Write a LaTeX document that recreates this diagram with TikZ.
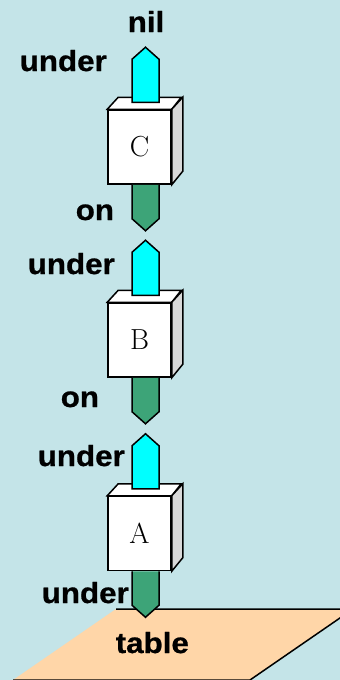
\documentclass[tikz,border=0pt]{standalone}
\usepackage{fontspec}
\usetikzlibrary{calc}
\newfontfamily\labfont{Liberation Sans}[FakeStretch=1.08,FakeBold=0.8]
\definecolor{bg}{HTML}{C4E4E8}
\definecolor{peach}{HTML}{FFD6A8}
\definecolor{ongreen}{HTML}{3DA478}
\definecolor{undercyan}{HTML}{00FFFF}
\definecolor{sidegrey}{HTML}{D9D9D9}
\begin{document}
\begin{tikzpicture}[x=1pt,y=-1pt,line width=1.5pt,line join=miter,
  face/.style={draw,fill=white,minimum width=63pt,minimum height=74pt,inner sep=0pt,
    font=\fontsize{29}{29}\selectfont},
  lbl/.style={font=\labfont\bfseries\fontsize{29}{29}\selectfont,inner sep=0pt,anchor=base west},
  onarrow/.style={draw,fill=ongreen},
  underarrow/.style={draw,fill=undercyan},
  sideface/.style={draw,fill=sidegrey},
  topface/.style={draw,fill=white}]
\fill[bg] (0,0) rectangle (340,680);
\useasboundingbox (0,0) rectangle (340,680);
\clip (0,0) rectangle (340,680);

% the table top
\draw[fill=peach] (116,609) -- (353,609) -- (250,680) -- (13,680);

% three stacked blocks, each with its "on" and "under" pointers
\foreach \n/\cy in {C/147,B/340,A/533.5}{
  \node[face] (\n) at (139.5,\cy) {\n};
  \draw[onarrow] ($(\n.south)+(-7.5,0)$) -- ++(0,34) -- ++(13.5,12) -- ++(13.5,-12) -- ++(0,-34);
  \draw[topface] (\n.north west) -- ++(11,-12) -- ++(63,0) -- (\n.north east) -- cycle;
  \draw[sideface] (\n.north east) -- ++(11,-12) -- ++(0,74) -- (\n.south east) -- cycle;
  \draw[underarrow] ($(\n.north)+(-7.5,-7)$) -- ++(0,-43) -- ++(13.5,-12) -- ++(13.5,12) -- ++(0,43) -- cycle;
}

% labels
\node[lbl,anchor=base] (nil) at (146,32) {nil};
\node[lbl] (cunder) at (19,71) {under};
\node[lbl] (con) at (75,220) {on};
\node[lbl] (bunder) at (27,274) {under};
\node[lbl] (bon) at (60,407) {on};
\node[lbl] (aunder) at (37,466) {under};
\node[lbl] (aon) at (41,603) {under};
\node[lbl] (table) at (115,653) {table};
\end{tikzpicture}
\end{document}
